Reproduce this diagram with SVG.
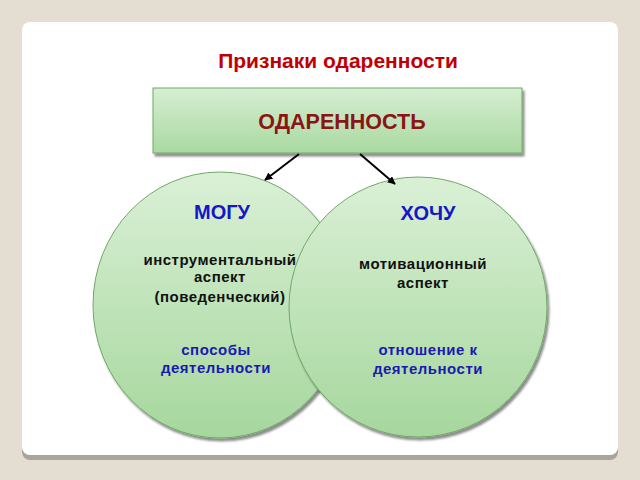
<svg xmlns="http://www.w3.org/2000/svg" width="640" height="480" viewBox="0 0 640 480">
<defs>
<linearGradient id="gBox" x1="0" y1="0" x2="0" y2="1">
<stop offset="0" stop-color="#d6eed2"/><stop offset="1" stop-color="#a9d9a1"/>
</linearGradient>
<linearGradient id="gCirc" x1="0" y1="0" x2="0" y2="1">
<stop offset="0" stop-color="#daf0d6"/><stop offset="1" stop-color="#a6d79d"/>
</linearGradient>
<filter id="sh" x="-10%" y="-10%" width="130%" height="130%">
<feGaussianBlur in="SourceAlpha" stdDeviation="1.2"/>
<feOffset dx="1.5" dy="2.5" result="b"/>
<feFlood flood-color="#000" flood-opacity="0.45"/>
<feComposite in2="b" operator="in"/>
<feMerge><feMergeNode/><feMergeNode in="SourceGraphic"/></feMerge>
</filter>
<marker id="ah" viewBox="0 0 10 10" refX="9" refY="5" markerWidth="4" markerHeight="4" orient="auto">
<path d="M0,0 L10,5 L0,10 z" fill="#000"/>
</marker>
<style>
.t{font-family:"Liberation Sans",Arial,sans-serif;font-weight:bold;text-anchor:middle}
.head{font-size:21px;fill:#c00000}
.main{font-size:21.5px;fill:#8b1414}
.big{font-size:20px;fill:#1616c8}
.blk{font-size:15px;fill:#111;letter-spacing:0.5px}
.blu{font-size:15px;fill:#1a1ab0;letter-spacing:0.5px}
.node{stroke:#6fa865;stroke-width:1}
</style>
</defs>
<rect width="640" height="480" fill="#e3ddd2"/>
<rect x="22" y="26" width="596" height="434" rx="8" fill="#a9a59b"/>
<rect x="22" y="22" width="596" height="433" rx="8" fill="#fff"/>
<text class="t head" x="338" y="67.5">Признаки одаренности</text>
<g id="box">
<rect class="node" x="153" y="88" width="369" height="65" fill="url(#gBox)" filter="url(#sh)"/>
<text class="t main" x="342" y="128.5">ОДАРЕННОСТЬ</text>
</g>
<g id="mogu">
<ellipse class="node" cx="220" cy="305" rx="127" ry="133" fill="url(#gCirc)" filter="url(#sh)"/>
<text class="t big" x="222" y="219">МОГУ</text>
<text class="t blk" x="220" y="265">инструментальный</text>
<text class="t blk" x="220" y="282">аспект</text>
<text class="t blk" x="220" y="302">(поведенческий)</text>
<text class="t blu" x="216" y="355">способы</text>
<text class="t blu" x="216" y="373">деятельности</text>
</g>
<g id="hochu">
<ellipse class="node" cx="418" cy="307" rx="129" ry="130" fill="url(#gCirc)" filter="url(#sh)"/>
<text class="t big" x="428" y="220">ХОЧУ</text>
<text class="t blk" x="423" y="269">мотивационный</text>
<text class="t blk" x="423" y="288">аспект</text>
<text class="t blu" x="428" y="355">отношение к</text>
<text class="t blu" x="428" y="374">деятельности</text>
</g>
<g id="connectors" stroke="#000" stroke-width="2" fill="none">
<line x1="299" y1="154" x2="265" y2="180" marker-end="url(#ah)"/>
<line x1="360" y1="154" x2="395" y2="184" marker-end="url(#ah)"/>
</g>
</svg>
